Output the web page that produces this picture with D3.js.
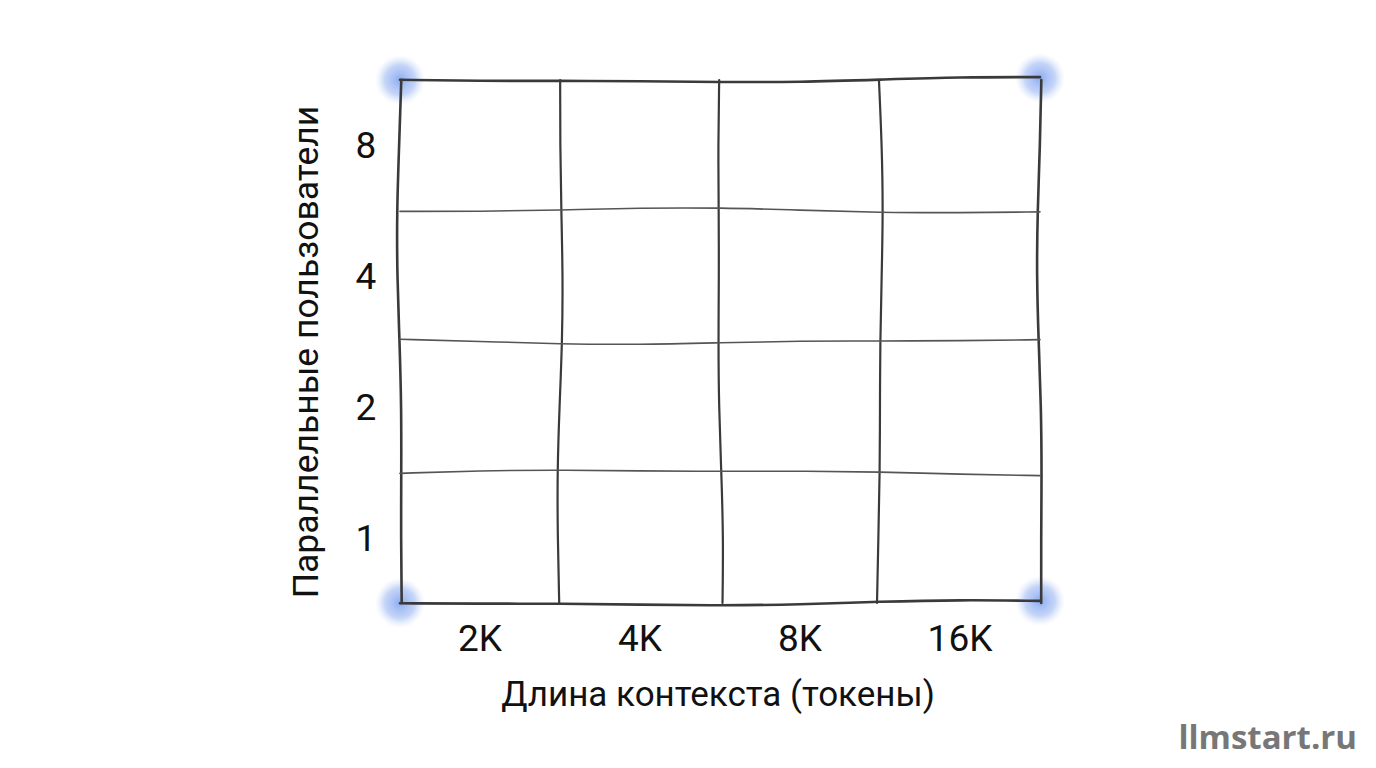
<!DOCTYPE html>
<html><head><meta charset="utf-8">
<script src="https://cdn.jsdelivr.net/npm/d3@7"></script>
<style>body{margin:0;background:#fff}svg{display:block}</style>
</head><body>
<svg id="chart" width="1376" height="768"></svg>
<script>
const xCats = ["2K", "4K", "8K", "16K"];
const yCats = ["1", "2", "4", "8"];
const xTitle = "Длина контекста (токены)";
const yTitle = "Параллельные пользователи";

const svg = d3.select("#chart");
const x = d3.scaleBand().domain(xCats).range([400, 1040]);
const y = d3.scaleBand().domain(yCats).range([603, 80]);

const defs = svg.append("defs");
const rg = defs.append("radialGradient").attr("id", "glow");
rg.append("stop").attr("offset", "0%").attr("stop-color", "#7fa3f0").attr("stop-opacity", 0.9);
rg.append("stop").attr("offset", "60%").attr("stop-color", "#9db8f3").attr("stop-opacity", 0.6);
rg.append("stop").attr("offset", "100%").attr("stop-color", "#c6d6f8").attr("stop-opacity", 0);

// corner glows
const corners = [[400, 80], [1040, 78], [400, 603], [1040, 601]];
svg.selectAll("circle.glow").data(corners).enter().append("circle")
  .attr("cx", d => d[0]).attr("cy", d => d[1]).attr("r", 25)
  .attr("fill", "url(#glow)");

// hand-drawn wobbly lines
const line = d3.line().curve(d3.curveBasis);
function wobble(x1, y1, x2, y2, seed) {
  const pts = [];
  for (let i = 0; i <= 8; i++) {
    const t = i / 8;
    const off = 2.2 * Math.sin(seed * 3.1 + t * 5.3) + 1.2 * Math.sin(seed * 7.7 + t * 11);
    const px = x1 + (x2 - x1) * t, py = y1 + (y2 - y1) * t;
    pts.push(x1 === x2 ? [px + off, py] : [px, py + off]);
  }
  return line(pts);
}
const xEdges = xCats.map(c => x(c)).concat([x.range()[1]]);
const yEdges = yCats.map(c => y(c) + y.bandwidth()).concat([y.range()[1]]);
const grid = svg.append("g").attr("fill", "none").attr("stroke", "#3a3a3a")
  .attr("stroke-linecap", "round");
xEdges.forEach((xv, i) => {
  const outer = i === 0 || i === xEdges.length - 1;
  grid.append("path").attr("d", wobble(xv, 80, xv, 603, i + 1))
    .attr("stroke-width", outer ? 2.6 : 2.2);
});
yEdges.forEach((yv, i) => {
  const outer = i === 0 || i === yEdges.length - 1;
  grid.append("path").attr("d", wobble(400, yv, 1040, yv, i + 10))
    .attr("stroke-width", outer ? 2.6 : 1.6).attr("stroke", outer ? "#3a3a3a" : "#555");
});

const font = "Roboto, 'Noto Sans', sans-serif";
svg.selectAll("text.xt").data(xCats).enter().append("text")
  .attr("x", d => x(d) + x.bandwidth() / 2).attr("y", 651)
  .attr("text-anchor", "middle").attr("font-family", font).attr("font-size", 37)
  .attr("fill", "#111").text(d => d);
svg.selectAll("text.yt").data(yCats).enter().append("text")
  .attr("x", 366).attr("y", d => y(d) + y.bandwidth() / 2 + 13)
  .attr("text-anchor", "middle").attr("font-family", font).attr("font-size", 37)
  .attr("fill", "#111").text(d => d);

svg.append("text").attr("x", 718).attr("y", 706).attr("text-anchor", "middle")
  .attr("font-family", font).attr("font-size", 35).attr("fill", "#111").text(xTitle);
svg.append("text").attr("transform", "translate(318,352) rotate(-90)")
  .attr("text-anchor", "middle").attr("font-family", font).attr("font-size", 35.5)
  .attr("fill", "#111").text(yTitle);

svg.append("text").attr("x", 1357).attr("y", 749).attr("text-anchor", "end")
  .attr("font-family", "'Open Sans', sans-serif").attr("font-weight", 700)
  .attr("font-size", 33).attr("fill", "#777").text("llmstart.ru");
</script>
</body></html>
